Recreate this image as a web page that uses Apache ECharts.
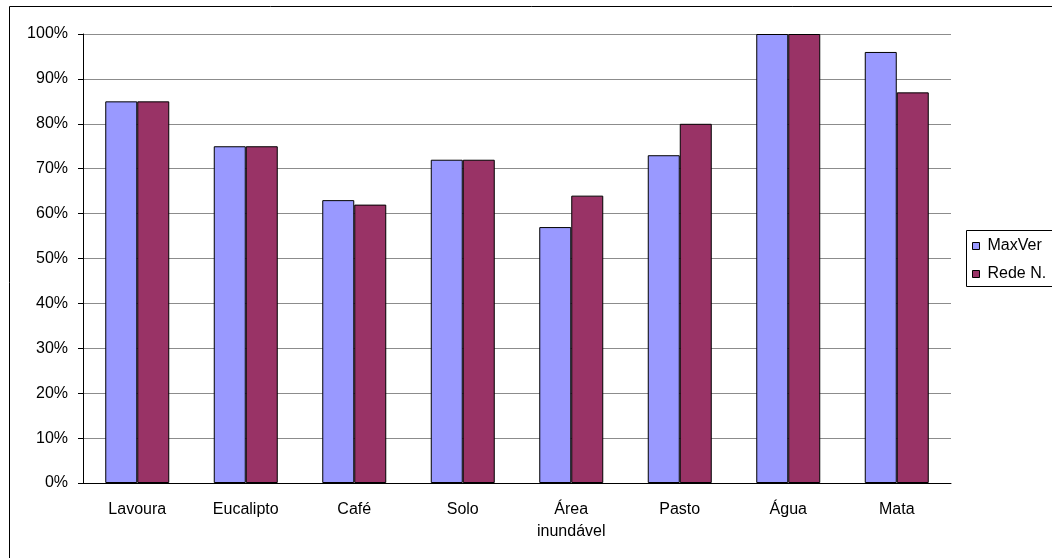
<!DOCTYPE html>
<html>
<head>
<meta charset="utf-8">
<script src="https://cdn.jsdelivr.net/npm/echarts@6/dist/echarts.min.js"></script>
<style>
html,body{margin:0;padding:0;background:#fff;}
#chart{width:1052px;height:558px;}
</style>
</head>
<body>
<div id="chart"></div>
<script>
var categories = ['Lavoura', 'Eucalipto', 'Café', 'Solo', 'Área\ninundável', 'Pasto', 'Água', 'Mata'];
var seriesNames = ['MaxVer', 'Rede N.'];
var maxVer = [85, 75, 63, 72, 57, 73, 100, 96];
var redeN = [85, 75, 62, 72, 64, 80, 100, 87];
var yTicks = [0, 10, 20, 30, 40, 50, 60, 70, 80, 90, 100];

var chart = echarts.init(document.getElementById('chart'), null, {renderer: 'canvas'});
var font = 'Liberation Sans, Arial, sans-serif';
chart.setOption({
  animation: false,
  backgroundColor: '#fff',
  textStyle: {fontFamily: font},
  graphic: [
    {type: 'rect', shape: {x: 9.5, y: 6.5, width: 1100, height: 600}, style: {fill: 'none', stroke: '#000', lineWidth: 1}, silent: true, z: -1},
    {type: 'rect', shape: {x: 966.5, y: 230.5, width: 120, height: 56}, style: {fill: '#fff', stroke: '#000', lineWidth: 1}, silent: true, z: 0}
  ],
  grid: {left: 83, right: 101, top: 34, bottom: 75, containLabel: false},
  legend: {
    orient: 'vertical', left: 967, top: 233,
    data: seriesNames,
    itemWidth: 7, itemHeight: 7, itemGap: 12,
    icon: 'rect',
    itemStyle: {borderColor: '#000', borderWidth: 1},
    textStyle: {fontSize: 16, color: '#000', fontFamily: font, padding: [0, 0, 0, 3]},
    z: 5
  },
  xAxis: {
    type: 'category', data: categories,
    axisLine: {lineStyle: {color: '#000', width: 1}},
    axisTick: {length: 5, lineStyle: {color: '#000'}},
    axisLabel: {fontSize: 16, color: '#000', margin: 16, lineHeight: 22, fontFamily: font, interval: 0}
  },
  yAxis: {
    type: 'value', min: yTicks[0], max: yTicks[yTicks.length - 1], interval: 10,
    axisLine: {show: true, lineStyle: {color: '#000', width: 1}},
    axisTick: {show: true, length: 5, lineStyle: {color: '#000'}},
    axisLabel: {fontSize: 16, color: '#000', margin: 15, fontFamily: font, formatter: '{value}%'},
    splitLine: {lineStyle: {color: '#8c8c8c', width: 1}}
  },
  series: [
    {name: seriesNames[0], type: 'bar', data: maxVer, barWidth: 32, barGap: '0%',
     itemStyle: {color: '#9999FF', borderColor: '#000', borderWidth: 1}},
    {name: seriesNames[1], type: 'bar', data: redeN, barWidth: 32, barGap: '0%',
     itemStyle: {color: '#993366', borderColor: '#000', borderWidth: 1}}
  ]
});
</script>
</body>
</html>
